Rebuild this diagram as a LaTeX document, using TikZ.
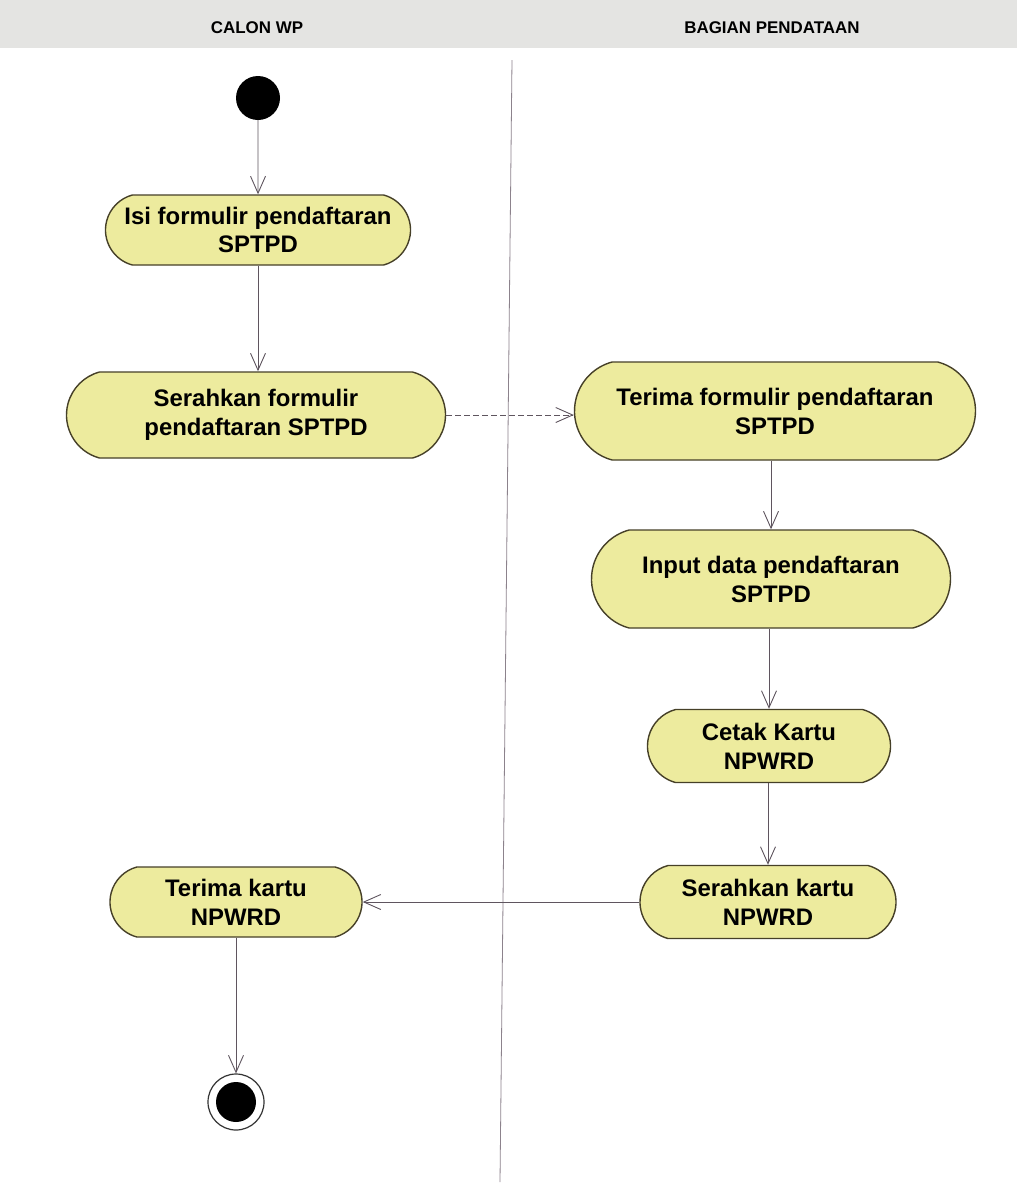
\documentclass[tikz,border=0pt]{standalone}
\usepackage{fontspec}
\setmainfont{Liberation Sans}
\usetikzlibrary{shapes.misc,arrows.meta}
\definecolor{actfill}{RGB}{237,235,158}
\definecolor{actline}{RGB}{70,64,40}
\definecolor{flowline}{RGB}{95,85,95}
\definecolor{bandgray}{RGB}{228,228,226}
\definecolor{lanegray}{RGB}{140,130,140}
\tikzset{
  activity/.style={rounded rectangle, rounded rectangle arc length=150,
    draw=actline, line width=1.4bp, fill=actfill, align=center,
    font=\fontsize{24}{29}\selectfont\bfseries, inner sep=0pt},
  flow/.style={draw=flowline, line width=0.9bp,
    -{Straight Barb[length=17bp,width=15bp]}},
  lanetitle/.style={font=\fontsize{17}{20}\selectfont\bfseries, inner sep=0pt},
  startdot/.style={circle, fill=black, minimum size=44bp, inner sep=0pt},
}
\begin{document}
\begin{tikzpicture}[x=1bp,y=-1bp]
  \useasboundingbox (0,0) rectangle (1017,1190);
  \fill[white] (0,0) rectangle (1017,1190);

  % swimlane header band and divider
  \fill[bandgray] (0,0) rectangle (1017,48);
  \node[lanetitle] (laneA) at (257,28) {CALON WP};
  \node[lanetitle] (laneB) at (772,28) {BAGIAN PENDATAAN};
  \coordinate (divtop) at (512,60);
  \coordinate (divbot) at (500,1182);
  \draw[lanegray, line width=0.8bp] (divtop) -- (divbot);

  % start and end
  \node[startdot] (start) at (258,98) {};
  \node[circle, draw=black!80, line width=1.2bp, fill=white, minimum size=56bp, inner sep=0pt] (final) at (236,1102) {};
  \node[circle, fill=black, minimum size=40bp, inner sep=0pt] (finaldot) at (236,1102) {};

  % activities
  \node[activity, minimum width=305bp, minimum height=70bp] (isi) at (258,230)
    {Isi formulir pendaftaran\\SPTPD};
  \node[activity, minimum width=379bp, minimum height=86bp] (serah) at (256,415)
    {Serahkan formulir\\pendaftaran SPTPD};
  \node[activity, minimum width=401bp, minimum height=98bp] (terima) at (775,411)
    {Terima formulir pendaftaran\\SPTPD};
  \node[activity, minimum width=359bp, minimum height=98bp] (input) at (771,579)
    {Input data pendaftaran\\SPTPD};
  \node[activity, minimum width=243bp, minimum height=73bp] (cetak) at (769,746)
    {Cetak Kartu\\NPWRD};
  \node[activity, minimum width=256bp, minimum height=73bp] (serahk) at (768,902)
    {Serahkan kartu\\NPWRD};
  \node[activity, minimum width=252bp, minimum height=70bp] (terimak) at (236,902)
    {Terima kartu\\NPWRD};

  % control flows
  \draw[flow] (start) -- (isi);
  \draw[flow] (isi.south -| start) -- (serah.north -| start);
  \draw[flow, dash pattern=on 6bp off 3bp] (serah.east) -- (terima.west |- serah.east);
  \draw[flow] (terima.south -| input) -- (input.north);
  \draw[flow] (input.south -| cetak) -- (cetak.north);
  \draw[flow] (cetak.south -| serahk) -- (serahk.north);
  \draw[flow] (serahk.west) -- (terimak.east);
  \draw[flow] (terimak.south) -- (final.north);
\end{tikzpicture}
\end{document}
